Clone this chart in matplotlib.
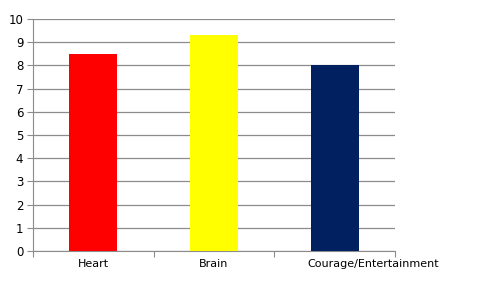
import matplotlib
matplotlib.use("Agg")
from matplotlib import pyplot as plt
from matplotlib.transforms import ScaledTranslation

categories = ["Heart", "Brain", "Courage/Entertainment"]
values = [8.5, 9.3, 8.0]
colors = ["#ff0000", "#ffff00", "#002060"]
y_ticks = list(range(0, 11))

fig = plt.figure(figsize=(4.8, 2.91), dpi=100)
ax = fig.add_axes([33 / 480, 40 / 291, 362 / 480, 232 / 291])

x = list(range(len(categories)))
ax.bar(x, values, width=0.4, color=colors, zorder=3)

ax.set_xlim(-0.5, len(categories) - 0.5)
ax.set_ylim(0, 10)
ax.set_yticks(y_ticks)
ax.yaxis.grid(True, color="#8c8c8c", linewidth=0.9, zorder=0)

# category boundary ticks, labels in the middle
ax.set_xticks([i - 0.5 for i in range(len(categories) + 1)])
ax.set_xticklabels([])
ax.set_xticks(x, minor=True)
ax.set_xticklabels(categories, minor=True, fontsize=8)
ax.tick_params(axis="x", which="minor", length=0, pad=6)
ax.tick_params(axis="x", which="major", length=4, color="#8c8c8c")
ax.tick_params(axis="y", length=4, color="#8c8c8c", labelsize=8.5, pad=3)

lbl = ax.get_xticklabels(minor=True)[2]
lbl.set_transform(lbl.get_transform() + ScaledTranslation(39 / 100, 0, fig.dpi_scale_trans))

for s in ["top", "right"]:
    ax.spines[s].set_visible(False)
for s in ["left", "bottom"]:
    ax.spines[s].set_color("#8c8c8c")

fig.savefig("out.png", dpi=100)
